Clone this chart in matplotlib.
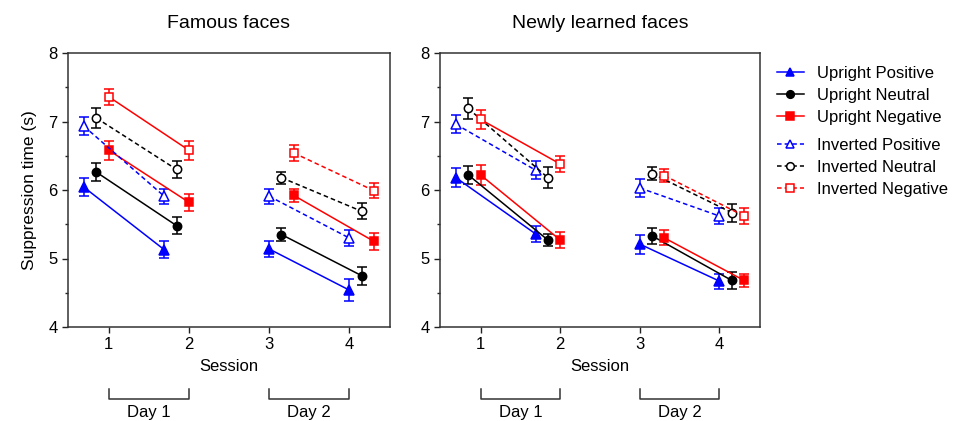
import matplotlib
matplotlib.use('Agg')
import matplotlib.pyplot as plt
from matplotlib.lines import Line2D
from matplotlib.ticker import MultipleLocator

plt.rcParams['font.family'] = ['Liberation Sans', 'DejaVu Sans']

# Datos
sessions = [1, 2, 3, 4]
days = ['Day 1', 'Day 2']
day_sessions = [(1, 2), (3, 4)]
panel_titles = ['Famous faces', 'Newly learned faces']
series_labels = ['Upright Positive', 'Upright Neutral', 'Upright Negative',
                 'Inverted Positive', 'Inverted Neutral', 'Inverted Negative']

famous_up_pos = [6.04, 5.13, 5.14, 4.54]
famous_up_neu = [6.26, 5.48, 5.35, 4.75]
famous_up_neg = [6.58, 5.82, 5.92, 5.25]
famous_inv_pos = [6.93, 5.91, 5.91, 5.30]
famous_inv_neu = [7.05, 6.30, 6.18, 5.69]
famous_inv_neg = [7.36, 6.58, 6.54, 5.99]
famous_up_pos_se = [0.13, 0.12, 0.12, 0.16]
famous_up_neu_se = [0.13, 0.12, 0.10, 0.13]
famous_up_neg_se = [0.14, 0.12, 0.10, 0.12]
famous_inv_pos_se = [0.13, 0.11, 0.11, 0.12]
famous_inv_neu_se = [0.15, 0.13, 0.09, 0.12]
famous_inv_neg_se = [0.12, 0.14, 0.12, 0.11]

new_up_pos = [6.18, 5.36, 5.21, 4.67]
new_up_neu = [6.22, 5.27, 5.33, 4.68]
new_up_neg = [6.22, 5.27, 5.30, 4.68]
new_inv_pos = [6.96, 6.29, 6.03, 5.62]
new_inv_neu = [7.19, 6.18, 6.24, 5.67]
new_inv_neg = [7.03, 6.38, 6.21, 5.62]
new_up_pos_se = [0.14, 0.12, 0.14, 0.11]
new_up_neu_se = [0.13, 0.09, 0.12, 0.13]
new_up_neg_se = [0.14, 0.12, 0.11, 0.10]
new_inv_pos_se = [0.13, 0.13, 0.13, 0.12]
new_inv_neu_se = [0.15, 0.15, 0.09, 0.13]
new_inv_neg_se = [0.14, 0.12, 0.10, 0.12]

panels = [
    ([famous_up_pos, famous_up_neu, famous_up_neg, famous_inv_pos, famous_inv_neu, famous_inv_neg],
     [famous_up_pos_se, famous_up_neu_se, famous_up_neg_se, famous_inv_pos_se, famous_inv_neu_se, famous_inv_neg_se]),
    ([new_up_pos, new_up_neu, new_up_neg, new_inv_pos, new_inv_neu, new_inv_neg],
     [new_up_pos_se, new_up_neu_se, new_up_neg_se, new_inv_pos_se, new_inv_neu_se, new_inv_neg_se]),
]

# Estilos
colors = ['#0000ff', 'black', '#ff0000'] * 2
markers = ['^', 'o', 's'] * 2
msizes = [6.5, 6, 6] * 2
filled = [True, True, True, False, False, False]
dash = (0, (3, 2))
# estilo de línea por día (día 1, día 2)
line_styles = [('-', '-'), ('-', '-'), ('-', '-'),
               (dash, dash), (dash, dash), ('-', dash)]
# desplazamiento horizontal por condición (sesiones 1-2 y 3-4)
dodge_day1 = [-0.31, -0.155, 0.0] * 2
dodge_day2 = [0.0, 0.155, 0.31] * 2

fig = plt.figure(figsize=(9.59, 4.21), dpi=100)
W, H = 959, 421
ax_boxes = [(68, 53, 390, 327), (440, 53, 760, 327)]

for p, (box, (vals, ses)) in enumerate(zip(ax_boxes, panels)):
    x0, y0, x1, y1 = box
    ax = fig.add_axes([x0 / W, 1 - y1 / H, (x1 - x0) / W, (y1 - y0) / H])
    for i in range(6):
        for d, (sa, sb) in enumerate(day_sessions):
            off = dodge_day1[i] if d == 0 else dodge_day2[i]
            idx = [sa - 1, sb - 1]
            xs = [sessions[k] + off for k in idx]
            ys = [vals[i][k] for k in idx]
            es = [ses[i][k] for k in idx]
            ax.errorbar(xs, ys, yerr=es, color=colors[i], linestyle=line_styles[i][d],
                        linewidth=1.1, marker=markers[i], markersize=msizes[i],
                        markerfacecolor=colors[i] if filled[i] else 'white',
                        markeredgecolor=colors[i], markeredgewidth=1.1,
                        elinewidth=1.1, capsize=3.5, capthick=1.1, zorder=3)
    ax.set_xlim(0.49, 4.51)
    ax.set_ylim(4, 8)
    ax.set_xticks(sessions)
    ax.yaxis.set_major_locator(MultipleLocator(1))
    ax.yaxis.set_minor_locator(MultipleLocator(0.5))
    ax.tick_params(axis='both', which='major', direction='out', length=4.5, width=1,
                   labelsize=12, pad=3, colors='#222222', labelcolor='black')
    ax.tick_params(axis='y', which='minor', direction='out', length=2.5, width=1,
                   colors='#222222')
    for sp in ax.spines.values():
        sp.set_linewidth(1.1)
        sp.set_color('#333333')
    ax.set_xlabel('Session', fontsize=12, labelpad=5)
    ax.set_title(panel_titles[p], fontsize=14, pad=18)
    if p == 0:
        ax.set_ylabel('Suppression time (s)', fontsize=12.5, labelpad=8)

    # Corchetes de día debajo del eje
    tr = ax.get_xaxis_transform()
    ytop = (y1 - 389) / (y1 - y0)
    ybot = (y1 - 399) / (y1 - y0)
    ytxt = (y1 - 413) / (y1 - y0)
    for d, (sa, sb) in enumerate(day_sessions):
        ax.add_line(Line2D([sa, sa, sb, sb], [ytop, ybot, ybot, ytop], transform=tr,
                           color='#333333', linewidth=1.1, clip_on=False))
        ax.text((sa + sb) / 2, ytxt, days[d], transform=tr, ha='center', va='center',
                fontsize=12, clip_on=False)

# Leyenda en dos grupos
handles = []
for i in range(6):
    handles.append(Line2D([], [], color=colors[i], linestyle='-' if i < 3 else dash,
                          linewidth=1.1, marker=markers[i], markersize=msizes[i] - 0.5,
                          markerfacecolor=colors[i] if filled[i] else 'white',
                          markeredgecolor=colors[i], markeredgewidth=1.1))
leg_kw = dict(frameon=False, fontsize=12, loc='upper left', borderpad=0, borderaxespad=0,
              handlelength=1.6, handletextpad=0.8, labelspacing=0.42)
leg1 = fig.legend(handles[:3], series_labels[:3], bbox_to_anchor=(777 / W, 1 - 66 / H), **leg_kw)
leg2 = fig.legend(handles[3:], series_labels[3:], bbox_to_anchor=(777 / W, 1 - 138 / H), **leg_kw)

fig.savefig('out.png', dpi=100)
